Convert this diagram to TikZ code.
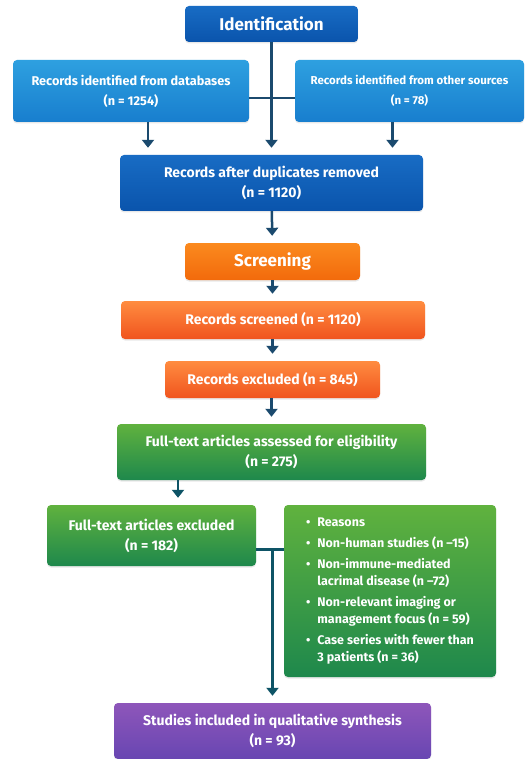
\documentclass[tikz,border=0pt]{standalone}
\usepackage{fontspec}
\setmainfont{Fira Sans}
\usetikzlibrary{arrows.meta,positioning,shadows}

\definecolor{linknavy}{HTML}{1B4A6E}
\definecolor{linkteal}{HTML}{0E5466}

\begin{document}
\begin{tikzpicture}[
    x=1pt, y=-1pt,
    box/.style={rectangle, rounded corners=4pt, text=white, align=center, inner sep=0pt,
        font=\bfseries\fontsize{14}{20}\selectfont,
        drop shadow={shadow xshift=0pt, shadow yshift=-1.5pt, opacity=0.18}},
    head/.style={box, font=\bfseries\fontsize{17}{20}\selectfont},
    idblue/.style={top color={rgb,255:red,24;green,108;blue,196}, bottom color={rgb,255:red,10;green,84;blue,172}},
    skyblue/.style={top color={rgb,255:red,46;green,160;blue,224}, bottom color={rgb,255:red,24;green,126;blue,206}},
    orangeA/.style={top color={rgb,255:red,251;green,138;blue,30}, bottom color={rgb,255:red,242;green,106;blue,12}},
    orangeB/.style={top color={rgb,255:red,255;green,140;blue,64}, bottom color={rgb,255:red,240;green,84;blue,30}},
    greenA/.style={top color={rgb,255:red,96;green,178;blue,62}, bottom color={rgb,255:red,30;green,136;blue,76}},
    purpleA/.style={top color={rgb,255:red,142;green,86;blue,186}, bottom color={rgb,255:red,104;green,70;blue,178}},
    arrow/.style={-{Triangle[width=12pt,length=8pt]}, line width=2.5pt, draw=linknavy, shorten >=7pt},
    link/.style={line width=2.5pt, draw=linknavy}
]
    \fill[white] (0,0) rectangle (526,759);
    \useasboundingbox (0,0) rectangle (526,759);

    % Identification
    \node[head, idblue, minimum width=173pt, minimum height=36pt] (ident) at (271.5,24) {Identification};
    \node[box, skyblue, minimum width=236pt, minimum height=62pt, font=\bfseries\fontsize{12.7}{20}\selectfont] (db) at (131,91) {Records identified from databases\\(n = 1254)};
    \node[box, skyblue, minimum width=229pt, minimum height=62pt, font=\bfseries\fontsize{11.5}{20}\selectfont] (other) at (409.5,91) {Records identified from other sources\\(n = 78)};
    \node[box, idblue, minimum width=303pt, minimum height=56pt] (dup) at (271.5,183) {Records after duplicates removed\\(n = 1120)};

    % Screening
    \node[head, orangeA, minimum width=175pt, minimum height=37pt] (screen) at (272.5,261.5) {Screening};
    \node[box, orangeB, minimum width=304pt, minimum height=38pt] (screened) at (273,320) {Records screened (n = 1120)};
    \node[box, orangeB, minimum width=215pt, minimum height=37pt] (recexcl) at (272.5,379.5) {Records excluded (n = 845)};

    % Eligibility
    \node[box, greenA, minimum width=309pt, minimum height=56pt] (assessed) at (271.5,452) {Full-text articles assessed for eligibility\\(n = 275)};
    \node[box, greenA, minimum width=209pt, minimum height=61pt] (excl) at (151.5,535.5) {Full-text articles excluded\\(n = 182)};
    \node[box, greenA, minimum width=212pt, minimum height=172pt, font=\bfseries\fontsize{12.5}{17}\selectfont] (reasons) at (390,591) {%
        \begin{tabular}{@{}l@{\hspace{7pt}}l@{}}
        • & Reasons\\[4pt]
        • & Non-human studies (n –15)\\[4pt]
        • & Non-immune-mediated\\
          & lacrimal disease (n –72)\\[4pt]
        • & Non-relevant imaging or\\
          & management focus (n = 59)\\[4pt]
        • & Case series with fewer than\\
          & 3 patients (n = 36)
        \end{tabular}};

    % Included
    \node[box, purpleA, minimum width=317pt, minimum height=56pt] (studies) at (272.5,731) {Studies included in qualitative synthesis\\(n = 93)};

    % Arrows
    \draw[arrow] (ident) -- (dup);
    \draw[link] ([yshift=-7pt]db.east) -- ([yshift=-7pt]other.west);
    \draw[arrow] ([xshift=17pt]db.south) -- ([xshift=17pt]db.south |- dup.north);
    \draw[arrow] ([xshift=-17pt]other.south) -- ([xshift=-17pt]other.south |- dup.north);
    \draw[arrow] (dup) -- (screen);
    \draw[arrow] (screen) -- (screened.north -| screen.south);
    \draw[arrow] (screened.south -| recexcl.north) -- (recexcl);
    \draw[arrow] (recexcl.south -| assessed.north) -- (assessed);
    \draw[arrow, draw=linkteal] ([xshift=26.5pt]excl.north |- assessed.south) -- ([xshift=26.5pt]excl.north);
    \draw[link, draw=linkteal] ([yshift=-14pt]excl.east) -- ([yshift=-14pt]excl.east -| reasons.west);
    \draw[arrow, draw=linkteal] ([yshift=-14pt]excl.east -| studies.north) -- (studies.north);
\end{tikzpicture}
\end{document}
